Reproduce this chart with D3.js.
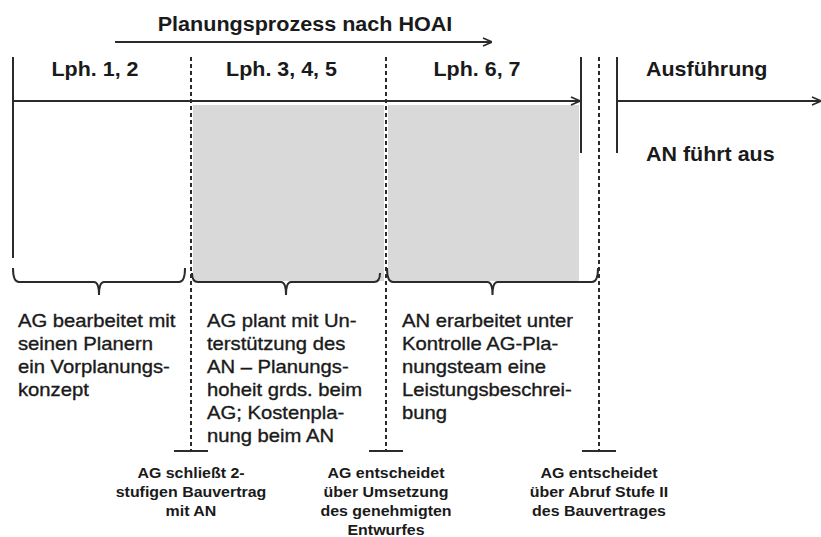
<!DOCTYPE html>
<html>
<head>
<meta charset="utf-8">
<script src="https://cdn.jsdelivr.net/npm/d3@7"></script>
<style>
  body { margin: 0; background: #fff; }
  text { font-family: "Liberation Sans", Arial, sans-serif; fill: #1a1a1a; }
</style>
</head>
<body>
<div id="chart"></div>
<script>
// phases of the planning process
var phases = ["Lph. 1, 2", "Lph. 3, 4, 5", "Lph. 6, 7"]
var shaded = [false, true, true]
var descriptions = [
  ["AG bearbeitet mit", "seinen Planern", "ein Vorplanungs-", "konzept"],
  ["AG plant mit Un-", "terstützung des", "AN – Planungs-", "hoheit grds. beim", "AG; Kostenpla-", "nung beim AN"],
  ["AN erarbeitet unter", "Kontrolle AG-Pla-", "nungsteam eine", "Leistungsbeschrei-", "bung"]
]
// decisions at the end of each phase
var milestones = [
  ["AG schließt 2-", "stufigen Bauvertrag", "mit AN"],
  ["AG entscheidet", "über Umsetzung", "des genehmigten", "Entwurfes"],
  ["AG entscheidet", "über Abruf Stufe II", "des Bauvertrages"]
]
var title = "Planungsprozess nach HOAI"
var execLabel = "Ausführung"
var execText = "AN führt aus"

var width = 821, height = 537
var sx = 1.1  // the source picture is a bit wide

// timeline position (phase boundary index) -> pixels
var x = d3.scaleLinear().domain([0, 1, 2, 3]).range([13, 191, 386, 599])

var svg = d3.select("#chart").append("svg")
    .attr("width", width)
    .attr("height", height)

var ink = "#2b2b2b"

function at(px, py) { return "translate(" + px + "," + py + ") scale(" + sx + ",1)" }

svg.append("defs").append("marker")
    .attr("id", "arrow")
    .attr("viewBox", "0 0 10 10")
    .attr("refX", 10).attr("refY", 5)
    .attr("markerWidth", 10).attr("markerHeight", 10)
    .attr("markerUnits", "userSpaceOnUse")
    .attr("orient", "auto")
  .append("path")
    .attr("d", "M1,1 L10,5 L1,9")
    .attr("fill", "none")
    .attr("stroke", ink)
    .attr("stroke-width", 1.6)

// gray phase boxes
svg.selectAll(".box")
    .data(phases.map(function (p, i) { return {i: i, on: shaded[i]} }).filter(function (d) { return d.on }))
  .enter().append("rect")
    .attr("x", function (d) { return x(d.i) + 2 })
    .attr("y", 105)
    .attr("width", function (d) { return d.i == 2 ? x(d.i + 1) - x(d.i) - 22 : x(d.i + 1) - x(d.i) - 4 })
    .attr("height", 176)
    .attr("fill", "#d9d9d9")

// title + arrow
svg.append("text")
    .attr("transform", at(305, 31))
    .attr("text-anchor", "middle")
    .attr("font-size", 19.6).attr("font-weight", "bold")
    .text(title)
svg.append("line")
    .attr("x1", 115).attr("x2", 492).attr("y1", 42).attr("y2", 42)
    .attr("stroke", ink).attr("stroke-width", 2)
    .attr("marker-end", "url(#arrow)")

// main timeline
svg.append("line")
    .attr("x1", x(0)).attr("x2", 580).attr("y1", 101).attr("y2", 101)
    .attr("stroke", ink).attr("stroke-width", 2)
    .attr("marker-end", "url(#arrow)")
svg.append("line")
    .attr("x1", 617).attr("x2", 821).attr("y1", 101).attr("y2", 101)
    .attr("stroke", ink).attr("stroke-width", 2)
    .attr("marker-end", "url(#arrow)")

svg.append("line")
    .attr("x1", x(0)).attr("x2", x(0)).attr("y1", 57).attr("y2", 258)
    .attr("stroke", ink).attr("stroke-width", 2)
svg.selectAll(".stop")
    .data([581, 617])
  .enter().append("line")
    .attr("x1", function (d) { return d }).attr("x2", function (d) { return d })
    .attr("y1", 57).attr("y2", 153)
    .attr("stroke", ink).attr("stroke-width", 2)

// dashed phase boundaries with T-ends
svg.selectAll(".bound")
    .data([1, 2, 3])
  .enter().append("line")
    .attr("x1", function (d) { return x(d) }).attr("x2", function (d) { return x(d) })
    .attr("y1", 57).attr("y2", 451)
    .attr("stroke", ink).attr("stroke-width", 2)
    .attr("stroke-dasharray", "4,3")
svg.selectAll(".tee")
    .data([1, 2, 3])
  .enter().append("line")
    .attr("x1", function (d) { return x(d) - 17 }).attr("x2", function (d) { return x(d) + 17 })
    .attr("y1", 451).attr("y2", 451)
    .attr("stroke", ink).attr("stroke-width", 2)

// braces
function brace(x0, x1, top) {
  var m = (x0 + x1) / 2, y = 282, tip = 295
  return "M" + x0 + "," + top + " Q" + x0 + "," + y + " " + (x0 + 6) + "," + y +
    " L" + (m - 5) + "," + y + " Q" + m + "," + y + " " + m + "," + tip +
    " Q" + m + "," + y + " " + (m + 5) + "," + y +
    " L" + (x1 - 6) + "," + y + " Q" + x1 + "," + y + " " + x1 + "," + top
}
svg.selectAll(".brace")
    .data(phases)
  .enter().append("path")
    .attr("d", function (d, i) {
      var a = i == 0 ? x(i) : x(i) + 1
      var b = i == 2 ? x(i + 1) - 1 : x(i + 1) - 6
      return brace(a, b, i == 1 ? 273 : 268)
    })
    .attr("fill", "none")
    .attr("stroke", ink).attr("stroke-width", 2)

// phase labels
svg.selectAll(".phase")
    .data(phases)
  .enter().append("text")
    .attr("transform", function (d, i) {
      var cx = i == 2 ? x(i) + 91 : (x(i) + x(i + 1)) / 2 - 7
      return at(cx, 76)
    })
    .attr("text-anchor", "middle")
    .attr("font-size", 19.5).attr("font-weight", "bold")
    .text(function (d) { return d })

svg.append("text")
    .attr("transform", at(646, 76))
    .attr("font-size", 19.5).attr("font-weight", "bold")
    .text(execLabel)
svg.append("text")
    .attr("transform", at(646, 161))
    .attr("font-size", 19.5).attr("font-weight", "bold")
    .text(execText)

// descriptions
var desc = svg.selectAll(".desc")
    .data(descriptions)
  .enter().append("text")
    .attr("transform", function (d, i) { return at(x(i) + (i == 0 ? 5 : 16), 327) })
    .attr("font-size", 18.4)
    .attr("stroke", "#1a1a1a").attr("stroke-width", 0.35)
desc.selectAll("tspan")
    .data(function (d) { return d })
  .enter().append("tspan")
    .attr("x", 0)
    .attr("y", function (d, j) { return j * 23 })
    .text(function (d) { return d })

// milestone labels
var ms = svg.selectAll(".ms")
    .data(milestones)
  .enter().append("text")
    .attr("transform", function (d, i) { return at(x(i + 1), 478) })
    .attr("text-anchor", "middle")
    .attr("font-size", 14.5).attr("font-weight", "bold")
ms.selectAll("tspan")
    .data(function (d) { return d })
  .enter().append("tspan")
    .attr("x", 0)
    .attr("y", function (d, j) { return j * 19 })
    .text(function (d) { return d })
</script>
</body>
</html>
